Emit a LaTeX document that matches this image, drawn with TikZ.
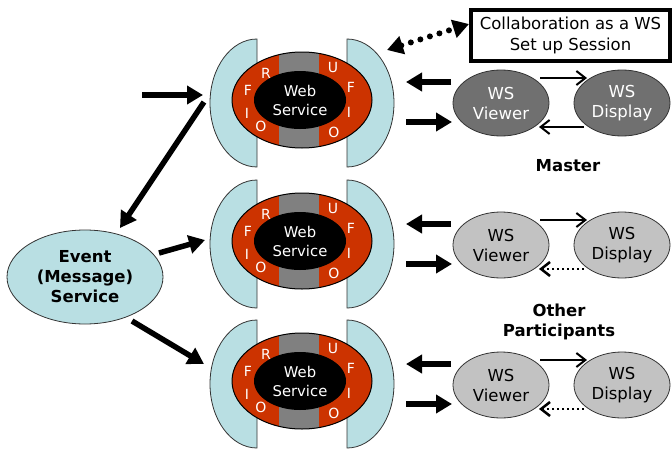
\documentclass[tikz,border=0pt]{standalone}
\usepackage{fontspec}
\setmainfont{DejaVu Sans}
\usetikzlibrary{arrows.meta,shapes.geometric}
\definecolor{shieldc}{RGB}{185,223,227}
\definecolor{fioc}{RGB}{204,51,0}
\definecolor{bandc}{RGB}{128,128,128}
\definecolor{darkws}{RGB}{112,112,112}
\definecolor{lightws}{RGB}{194,194,194}
\tikzset{
  thickarrow/.style={line width=5.5pt,-{Triangle[length=16pt,width=18pt]}},
  thinarrow/.style={line width=2pt,-{Straight Barb[length=9pt,width=14pt]}},
  dotarrow/.style={line width=2.5pt,dash pattern=on 2.5pt off 2.5pt,-{Straight Barb[length=9pt,width=14pt]}},
  shieldpath/.style={fill=shieldc,draw=black!80,line width=0.8pt},
  wsnode/.style={ellipse,draw=black!80,line width=0.8pt,minimum width=96pt,minimum height=66pt,inner sep=0pt,align=center,font=\fontsize{16.5}{20}\selectfont},
  letter/.style={text=white,inner sep=0pt,font=\fontsize{14}{14}\selectfont},
  lbl/.style={align=center,font=\bfseries\fontsize{16.5}{20}\selectfont}
}
\begin{document}
\begin{tikzpicture}[x=1pt,y=-1pt]
\useasboundingbox (0,0) rectangle (672,450);
\foreach \c/\v/\n/\vf/\vt in {100/103/1/darkws/white,241/245/2/lightws/black,381/385/3/lightws/black}{
  % shields
  \draw[shieldpath] (257,\c-61) arc[start angle=270,end angle=90,x radius=47,y radius=64] -- cycle;
  \draw[shieldpath] (347,\c-61) arc[start angle=270,end angle=450,x radius=47,y radius=64] -- cycle;
  % web service body
  \begin{scope}
    \clip (302,\c) ellipse [x radius=70,y radius=48];
    \fill[bandc] (230,\c-50) rectangle (374,\c+50);
    \fill[fioc] (225,\c-50) rectangle (279,\c+50);
    \fill[fioc] (319,\c-50) rectangle (380,\c+50);
  \end{scope}
  \node[ellipse,draw=black,line width=1pt,minimum width=140pt,minimum height=96pt,inner sep=0pt] (ws\n) at (302,\c) {};
  \node[ellipse,fill=black,minimum width=92pt,minimum height=58pt,inner sep=0pt,text=white,align=center,font=\fontsize{14.8}{19}\selectfont] (core\n) at (300,\c) {Web\\Service};
  \node[letter] (r\n) at (266,\c-27) {R};
  \node[letter] (fl\n) at (248,\c-10) {F};
  \node[letter] (il\n) at (247,\c+13) {I};
  \node[letter] (ol\n) at (261,\c+26) {O};
  \node[letter] (u\n) at (333,\c-33) {U};
  \node[letter] (fr\n) at (351,\c-13) {F};
  \node[letter] (ir\n) at (349,\c+12) {I};
  \node[letter] (or\n) at (334,\c+32) {O};
  % viewer / display
  \node[wsnode,fill=\vf,text=\vt] (view\n) at (501,\v) {WS\\Viewer};
  \node[wsnode,fill=\vf,text=\vt] (disp\n) at (622,\v) {WS\\Display};
  % thick arrows to/from viewer
  \coordinate (la\n) at (451,\v-21);
  \coordinate (lb\n) at (406,\v-21);
  \coordinate (ra\n) at (406,\v+19);
  \coordinate (rb\n) at (452,\v+19);
  \draw[thickarrow] (la\n) -- (lb\n);
  \draw[thickarrow] (ra\n) -- (rb\n);
  % thin arrows viewer <-> display
  \coordinate (ta\n) at (540,\v-25);
  \coordinate (tb\n) at (587,\v-25);
  \coordinate (ba\n) at (584,\v+24);
  \coordinate (bb\n) at (539,\v+24);
  \draw[thinarrow] (ta\n) -- (tb\n);
  \ifnum\n=1
    \draw[thinarrow] (ba\n) -- (bb\n);
  \else
    \draw[dotarrow] (ba\n) -- (bb\n);
  \fi
}
% event service
\node[ellipse,draw=black!80,line width=0.8pt,fill=shieldc,minimum width=156pt,minimum height=94pt,inner sep=0pt,lbl] (event) at (85,277) {Event\\(Message)\\Service};
% arrows from/to event
\coordinate (in0) at (142,95);
\coordinate (in1) at (203,95);
\coordinate (e1s) at (204,102);
\coordinate (e1t) at (120,228);
\coordinate (e2s) at (159,253);
\coordinate (e2t) at (205,240);
\coordinate (e3s) at (132,321);
\coordinate (e3t) at (204,364);
\draw[thickarrow] (in0) -- (in1);
\draw[thickarrow] (e1s) -- (e1t);
\draw[thickarrow] (e2s) -- (e2t);
\draw[thickarrow] (e3s) -- (e3t);
% collaboration box
\node[draw=black,line width=4pt,minimum width=199pt,minimum height=51pt,inner sep=0pt,align=center,font=\fontsize{16.5}{21}\selectfont] (collab) at (570.5,35.5) {Collaboration as a WS\\Set up Session};
\coordinate (d1) at (387,50);
\coordinate (d2) at (469,24);
\draw[line width=6pt,line cap=round,dash pattern=on 0pt off 10pt,{Triangle[length=16pt,width=18pt]}-{Triangle[length=16pt,width=18pt]}] (d1) -- (d2);
% labels
\node[lbl] (master) at (568,166) {Master};
\node[lbl] (others) at (559,322) {Other\\Participants};
\end{tikzpicture}
\end{document}
